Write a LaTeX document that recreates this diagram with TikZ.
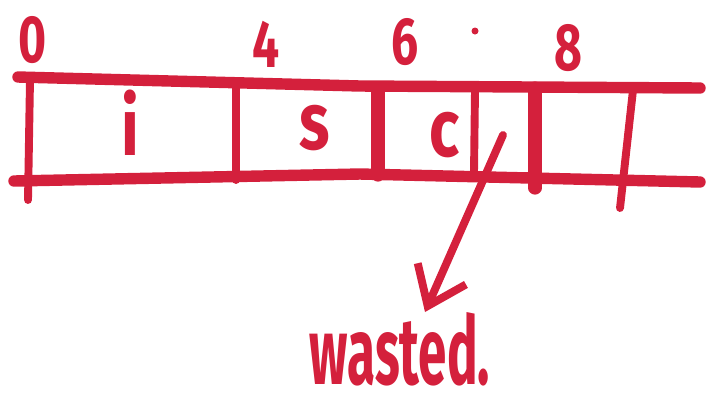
\documentclass[tikz,border=0pt]{standalone}
\usepackage{fontspec}
\setmainfont{Fira Sans}
\usetikzlibrary{arrows.meta}
\usetikzlibrary{positioning}
\definecolor{marker}{RGB}{212,32,60}
\tikzset{
	rail/.style={draw=marker,line width=6.5pt,line cap=round},
	wall/.style={draw=marker,line width=4.5pt,line cap=round},
	thickwall/.style={draw=marker,line width=7.5pt,line cap=round},
	digit/.style={text=marker,inner sep=0pt,xscale=0.72,font=\fontsize{38}{40}\selectfont\bfseries},
	letter/.style={text=marker,inner sep=0pt,xscale=0.78,font=\fontsize{46}{48}\selectfont\bfseries},
	word/.style={text=marker,inner sep=0pt,xscale=0.54,font=\fontsize{54}{56}\selectfont\bfseries},
	pointer/.style={draw=marker,line width=4.5pt,line cap=round,
		-{Straight Barb[length=20pt,width=30pt,line width=4.5pt]}}
}

\begin{document}
\begin{tikzpicture}[x=0.02cm,y=-0.02cm]
	\useasboundingbox (0,0) rectangle (715,407);

	% ==================================================
	% 1. OFFSETS ABOVE THE STRIP
	% ==================================================
	\node[digit] (zero) at (33,40) {0};
	\node[digit] (four) at (266,44) {4};
	\node[digit] (six) at (405,42) {6};
	\node[digit] (eight) at (568,48) {8};
	\fill[marker] (475,31) circle (3.5);

	% ==================================================
	% 2. THE STRIP AND ITS FIELDS
	% ==================================================
	% Rails
	\draw[rail] (18,77) -- (360,86) -- (700,88);
	\draw[rail] (14,181) -- (360,174) -- (700,182);

	% Dividers
	\draw[wall] (30,80) -- (28,200);
	\draw[wall] (236,88) -- (236,180);
	\draw[thickwall] (378,88) -- (378,175);
	\draw[wall] (475,90) -- (474,172);
	\draw[thickwall] (535,88) -- (535,188);
	\draw[wall] (633,90) -- (620,208);

	% Field contents
	\node[letter] (fieldi) at (130,123) {i};
	\node[letter] (fields) at (315,128) {s};
	\node[letter] (fieldc) at (445,135) {c};

	% ==================================================
	% 3. PADDING POINTER
	% ==================================================
	\node[word,anchor=north] (wasted) at (400,312) {wasted.};
	\coordinate (gap) at (503,135);
	\draw[pointer] (gap) -- ([xshift=0.5cm]wasted.north);

\end{tikzpicture}
\end{document}
